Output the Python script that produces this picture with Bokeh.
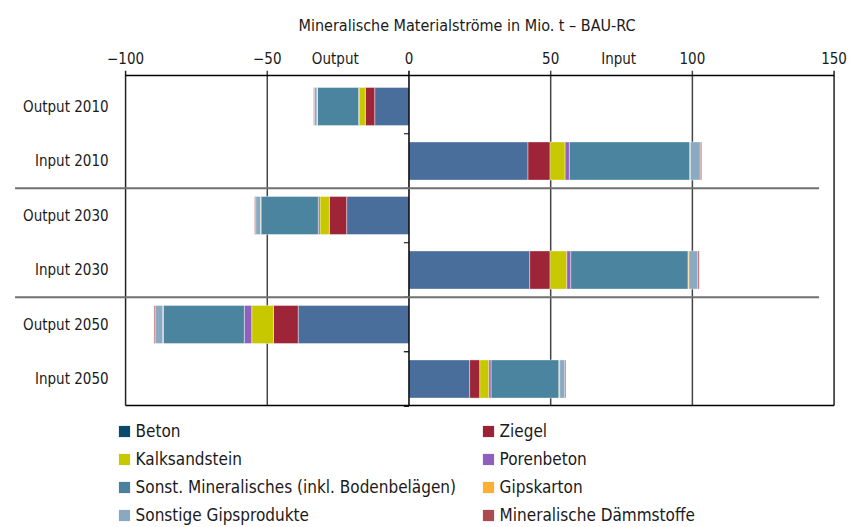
from bokeh.plotting import figure
from bokeh.models import (ColumnDataSource, Range1d, LinearAxis, FixedTicker,
                          Legend, LegendItem)
from bokeh.core.properties import value
from bokeh.embed import file_html
from bokeh.resources import INLINE

# ---------------- data ----------------
title_text = "Mineralische Materialströme in Mio. t – BAU-RC"
rows = ["Output 2010", "Input 2010", "Output 2030", "Input 2030", "Output 2050", "Input 2050"]
materials = ["Beton", "Ziegel", "Kalksandstein", "Porenbeton",
             "Sonst. Mineralisches (inkl. Bodenbelägen)", "Gipskarton",
             "Sonstige Gipsprodukte", "Mineralische Dämmstoffe"]
beton = [-12.1, 42.0, -22.0, 42.6, -39.1, 21.4]
ziegel = [-3.3, 7.8, -6.1, 7.2, -8.7, 3.6]
kalksandstein = [-2.1, 5.3, -3.3, 5.9, -7.7, 3.2]
porenbeton = [-0.3, 1.5, -0.6, 1.4, -2.6, 0.8]
sonst_mineralisches = [-14.5, 42.5, -20.2, 41.4, -28.6, 23.9]
gipskarton = [-0.2, 0.2, -0.2, 0.3, -0.2, 0.3]
sonstige_gips = [-0.9, 3.5, -1.7, 3.0, -2.7, 1.8]
daemmstoffe = [-0.3, 0.5, -0.4, 0.6, -0.4, 0.4]
series = [beton, ziegel, kalksandstein, porenbeton, sonst_mineralisches,
          gipskarton, sonstige_gips, daemmstoffe]
bar_colors = ["#4a6e9c", "#9e2437", "#c8c800", "#9060c0", "#4a849e",
              "#f5b335", "#8aa9c3", "#c0646a"]
legend_colors = ["#0b4a6a", "#9b2335", "#c8c800", "#8e5fc0", "#4a829d",
                 "#fbb034", "#8aa9c1", "#a94b50"]
tick_values = [-100, -50, 0, 50, 100, 150]
tick_labels = ["\u2212100", "\u221250", "0", "50", "100", "150"]
side_labels = ["Output", "Input"]
side_label_pos = [-26, 74]

FONT = "DejaVu Sans Condensed"
TXT = "#1a1a1a"

keys = ["s%d" % i for i in range(len(materials))]
data = {"y": list(range(len(rows)))}
for k, s in zip(keys, series):
    data[k] = s
source = ColumnDataSource(data)

# y extents (in row units): frame top, top axis line, chart bottom, canvas bottom
Y_TOP, Y_AXIS, Y_BOTTOM, Y_CANVAS = -0.661, -0.569, 5.486, 7.725

p = figure(width=853, height=527,
           x_range=Range1d(-139.9, 150.5), y_range=Range1d(Y_CANVAS, Y_TOP),
           output_backend="svg", toolbar_location=None,
           x_axis_location=None, y_axis_location=None,
           min_border_left=12, min_border_right=18, min_border_top=70,
           min_border_bottom=0)
p.outline_line_color = None
p.grid.visible = False

# title
p.title.text = title_text
p.title.text_font = FONT
p.title.text_font_size = "16px"
p.title.text_font_style = "normal"
p.title.text_color = TXT
p.title.align = "left"
p.title.vertical_align = "top"
p.title.offset = 286
p.title.standoff = 19

# top axis: tick labels + "Output"/"Input"; the lines are drawn as glyphs
ticks_all = tick_values + side_label_pos
labels_all = tick_labels + side_labels
ax = LinearAxis(ticker=FixedTicker(ticks=ticks_all),
                major_label_overrides={v: l for v, l in zip(ticks_all, labels_all)})
ax.axis_line_color = None
ax.major_tick_line_color = None
ax.minor_tick_line_color = None
ax.major_label_standoff = -3
ax.major_label_text_font = FONT
ax.major_label_text_font_size = "15px"
ax.major_label_text_color = TXT
p.add_layout(ax, "above")

# vertical lines: grid, zero line and frame sides (top ends = axis tick marks)
inner = [v for v in tick_values[1:-1] if v != 0]
p.segment(x0=inner, x1=inner, y0=[Y_TOP] * len(inner), y1=[Y_BOTTOM] * len(inner),
          line_color="#454545", line_width=1.5, level="underlay")
sides = [tick_values[0], tick_values[-1]]
p.segment(x0=sides, x1=sides, y0=[Y_TOP] * 2, y1=[Y_BOTTOM] * 2,
          line_color="#222222", line_width=1.5)

# top and bottom axis lines
p.segment(x0=[tick_values[0]] * 2, x1=[tick_values[-1]] * 2, y0=[Y_AXIS, Y_BOTTOM],
          y1=[Y_AXIS, Y_BOTTOM], line_color="black", line_width=1.5)

# stacked bars
p.hbar_stack(keys, y="y", height=0.7, source=source, fill_color=bar_colors,
             line_color="white", line_alpha=0.5, line_width=0.8)

# zero line with small ticks
p.segment(x0=[0], x1=[0], y0=[Y_TOP], y1=[Y_BOTTOM], line_color="black", line_width=1.5)
tick_y = [i + 0.5 for i in range(len(rows))]
p.segment(x0=[0] * len(tick_y), x1=[-1.8] * len(tick_y), y0=tick_y, y1=tick_y,
          line_color="black", line_width=1.2)

# group separators
sep_y = [i + 1.5 for i in range(0, len(rows) - 2, 2)]
p.segment(x0=[-139] * len(sep_y), x1=[144.7] * len(sep_y), y0=sep_y, y1=sep_y,
          line_color="#707070", line_width=2)

# row labels
p.text(x=[-106] * len(rows), y=list(range(len(rows))), text=rows,
       text_align="right", text_baseline="middle",
       text_font=value(FONT), text_font_size="15px", text_color=TXT)

# legend (two columns); swatch renderers are zero-width bars on the row positions
items = []
for m, c in zip(materials, legend_colors):
    r = p.hbar(y="y", left=0, right=0, height=0.7, source=source,
               fill_color=c, line_color=None)
    items.append(LegendItem(label=m, renderers=[r]))

for col, vx in ((0, 104.6), (1, 468.6)):
    lg = Legend(items=items[col::2], location=(vx, 2), orientation="vertical",
                border_line_color=None, background_fill_alpha=0, padding=0, margin=0,
                spacing=8, glyph_width=14, glyph_height=14, label_height=20,
                label_standoff=5, label_text_font=FONT, label_text_font_size="17px",
                label_text_color=TXT)
    p.add_layout(lg)

open("out.html", "w").write(file_html(p, INLINE))
